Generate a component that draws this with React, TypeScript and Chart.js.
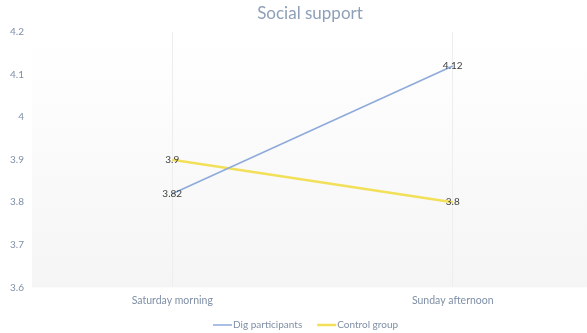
import React, { useEffect, useRef } from "react";
import { Chart, registerables } from "chart.js";

Chart.register(...registerables);

const categories = ["Saturday morning", "Sunday afternoon"];
const digParticipants = [3.82, 4.12];
const controlGroup = [3.9, 3.8];
const seriesNames = ["Dig participants", "Control group"];
const seriesColors = ["#8eaadb", "#f2e05a"];
const seriesWidths = [1.5, 2.5];
const titleText = "Social support";

const FONT = "Lato, 'Open Sans', sans-serif";
const AXIS_COLOR = "#7f8fa6";

const labelPlugin = {
  id: "pointLabels",
  afterDatasetsDraw(chart: any) {
    const ctx = chart.ctx;
    ctx.save();
    ctx.font = `10px ${FONT}`;
    ctx.fillStyle = "#404040";
    ctx.textAlign = "center";
    ctx.textBaseline = "middle";
    chart.data.datasets.forEach((ds: any, i: number) => {
      const meta = chart.getDatasetMeta(i);
      meta.data.forEach((pt: any, j: number) => {
        ctx.fillText(String(ds.data[j]), pt.x, pt.y);
      });
    });
    ctx.restore();
  },
};

const decorPlugin = {
  id: "decor",
  beforeDraw(chart: any) {
    const { ctx, chartArea } = chart;
    ctx.save();
    const g = ctx.createLinearGradient(0, chartArea.top, 0, chartArea.bottom);
    g.addColorStop(0, "#ffffff");
    g.addColorStop(1, "#f5f5f5");
    ctx.fillStyle = g;
    ctx.fillRect(chartArea.left, chartArea.top, chartArea.right - chartArea.left, chartArea.bottom - chartArea.top);
    ctx.restore();
  },
  afterDraw(chart: any) {
    const ctx = chart.ctx;
    ctx.save();
    // title
    ctx.font = `17px ${FONT}`;
    ctx.fillStyle = "#8da0b8";
    ctx.textAlign = "center";
    ctx.textBaseline = "middle";
    ctx.fillText(titleText, 310, 14);
    // legend
    ctx.font = `10px ${FONT}`;
    ctx.textAlign = "left";
    const y = 325;
    let x = 213;
    chart.data.datasets.forEach((ds: any, i: number) => {
      ctx.strokeStyle = seriesColors[i];
      ctx.lineWidth = seriesWidths[i];
      ctx.beginPath();
      ctx.moveTo(x, y);
      ctx.lineTo(x + 19, y);
      ctx.stroke();
      ctx.fillStyle = AXIS_COLOR;
      ctx.fillText(ds.label, x + 20, y);
      x += 20 + ctx.measureText(ds.label).width + 15;
    });
    ctx.restore();
  },
};

export default function App() {
  const ref = useRef<HTMLCanvasElement>(null);
  useEffect(() => {
    document.body.style.margin = "0";
    document.body.style.overflow = "hidden";
    const chart = new Chart(ref.current!, {
      type: "line",
      data: {
        labels: categories,
        datasets: [0, 1].map((i) => ({
          label: seriesNames[i],
          data: i === 0 ? digParticipants : controlGroup,
          borderColor: seriesColors[i],
          backgroundColor: seriesColors[i],
          borderWidth: seriesWidths[i],
          pointRadius: 0,
        })),
      },
      options: {
        animation: false,
        responsive: false,
        layout: { padding: { left: 0, right: 0, top: 32, bottom: 19 } },
        plugins: {
          title: { display: false },
          legend: { display: false },
          tooltip: { enabled: false },
        },
        scales: {
          x: {
            offset: true,
            grid: { display: true, offset: false, color: "#eeeeee", drawTicks: false },
            border: { display: false },
            ticks: { color: AXIS_COLOR, font: { family: FONT, size: 10.5 }, padding: 7 },
          },
          y: {
            min: 3.6,
            max: 4.2,
            grid: { display: false },
            border: { display: false },
            afterFit(scale: any) {
              scale.width = 32;
            },
            ticks: {
              stepSize: 0.1,
              color: AXIS_COLOR,
              font: { family: FONT, size: 10 },
              padding: 0,
              callback: (v: any) => String(Number(Number(v).toFixed(1))),
            },
          },
        },
      },
      plugins: [decorPlugin, labelPlugin],
    });
    return () => chart.destroy();
  }, []);
  return (
    <div style={{ width: 587, height: 333, overflow: "hidden" }}>
      <canvas ref={ref} width={593} height={333} style={{ display: "block" }} />
    </div>
  );
}
